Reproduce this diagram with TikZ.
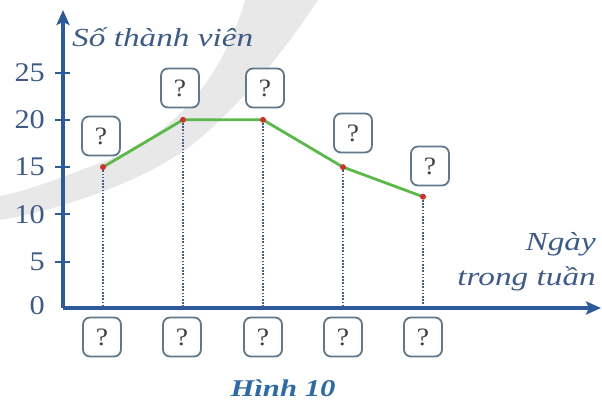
\documentclass[tikz,border=0pt]{standalone}
\usepackage{fontspec}
\setmainfont{Liberation Serif}
\newfontfamily\lblfont[FakeStretch=1.28]{Liberation Serif}
\newfontfamily\numfont[FakeStretch=1.12]{Liberation Serif}
\newfontfamily\qfont[FakeStretch=1.1]{Liberation Serif}
\usetikzlibrary{arrows.meta}
\definecolor{axisblue}{HTML}{2F5A9A}
\definecolor{txtblue}{HTML}{3E5B85}
\definecolor{capblue}{HTML}{2E6AA3}
\definecolor{linegreen}{HTML}{5DB84A}
\definecolor{dotred}{HTML}{C8342E}
\definecolor{boxgrey}{HTML}{61788A}
\definecolor{guidegrey}{HTML}{4A5F7A}
\definecolor{wm}{HTML}{E8E8E8}
\tikzset{
  qbox/.style={draw=boxgrey, line width=1.8pt, rounded corners=7pt, fill=white,
    minimum width=38pt, minimum height=39pt, inner sep=0pt,
    font=\qfont\fontsize{25}{25}\selectfont, text=black!75},
  numlbl/.style={anchor=east, inner sep=0pt, text=txtblue, font=\numfont\fontsize{27}{27}\selectfont},
  axlbl/.style={inner sep=0pt, text=txtblue, font=\lblfont\itshape\fontsize{26}{28}\selectfont},
  guide/.style={guidegrey, line width=1.5pt, dash pattern=on 1.6pt off 1.6pt},
  axisline/.style={axisblue, line width=3.6pt, -{Stealth[length=15pt,width=13pt,inset=3pt]}},
  tick/.style={axisblue, line width=2pt},
  pdot/.style={circle, fill=dotred, inner sep=0pt, minimum size=6pt},
}
\begin{document}
\begin{tikzpicture}[x=1pt,y=-1pt]
\useasboundingbox (0,0) rectangle (602,402);
% watermark swoosh
\fill[wm] (245,0) .. controls (225,70) and (180,135) .. (100,163)
  .. controls (60,178) and (30,190) .. (0,196)
  -- (0,220) .. controls (60,210) and (150,180) .. (198,140)
  .. controls (245,100) and (285,50) .. (318,0) -- cycle;
% axes
\coordinate (O) at (63,308);
\coordinate (ytip) at (63,10);
\coordinate (xtip) at (601,308);
\draw[axisline] (O) -- (ytip);
\draw[axisline] (O) -- (xtip);
% ticks and numbers
\foreach \v/\yy in {5/261.7,10/214.4,15/167.1,20/119.8,25/72.5}{
  \coordinate (tk\v) at (63,\yy);
  \draw[tick] ([xshift=-8pt]tk\v) -- ([xshift=7pt]tk\v);
  \node[numlbl] (n\v) at (45,\yy) {\v};
}
\node[numlbl] (n0) at (45,306) {0};
% axis labels
\node[axlbl, anchor=base west] (ylab) at (72,46) {Số thành viên};
\node[axlbl, anchor=base east] (xlab1) at (596,250) {Ngày};
\node[axlbl, anchor=base east] (xlab2) at (596,285) {trong tuần};
% data points
\coordinate (p1) at (103,167.1);
\coordinate (p2) at (183,119.8);
\coordinate (p3) at (263,119.8);
\coordinate (p4) at (343,167.1);
\coordinate (p5) at (423,196.7);
\foreach \i in {1,...,5}{
  \coordinate (f\i) at (p\i |- O);
  \draw[guide] (p\i) -- (f\i);
}
\draw[linegreen, line width=2.8pt, line join=round] (p1) -- (p2) -- (p3) -- (p4) -- (p5);
\foreach \i in {1,...,5}{ \node[pdot] (d\i) at (p\i) {}; }
% question boxes above points
\node[qbox] (t1) at (101,136) {?};
\node[qbox] (t2) at (180,88) {?};
\node[qbox] (t3) at (265,88) {?};
\node[qbox] (t4) at (353,133) {?};
\node[qbox] (t5) at (430,166) {?};
% question boxes below axis
\foreach \i/\xx in {1/102,2/182,3/263,4/343,5/423}{
  \node[qbox] (b\i) at (\xx,337) {?};
}
% caption
\node[inner sep=0pt, anchor=base, text=capblue, font=\lblfont\bfseries\itshape\fontsize{24}{24}\selectfont] (cap) at (283,396) {Hình 10};
\end{tikzpicture}
\end{document}
